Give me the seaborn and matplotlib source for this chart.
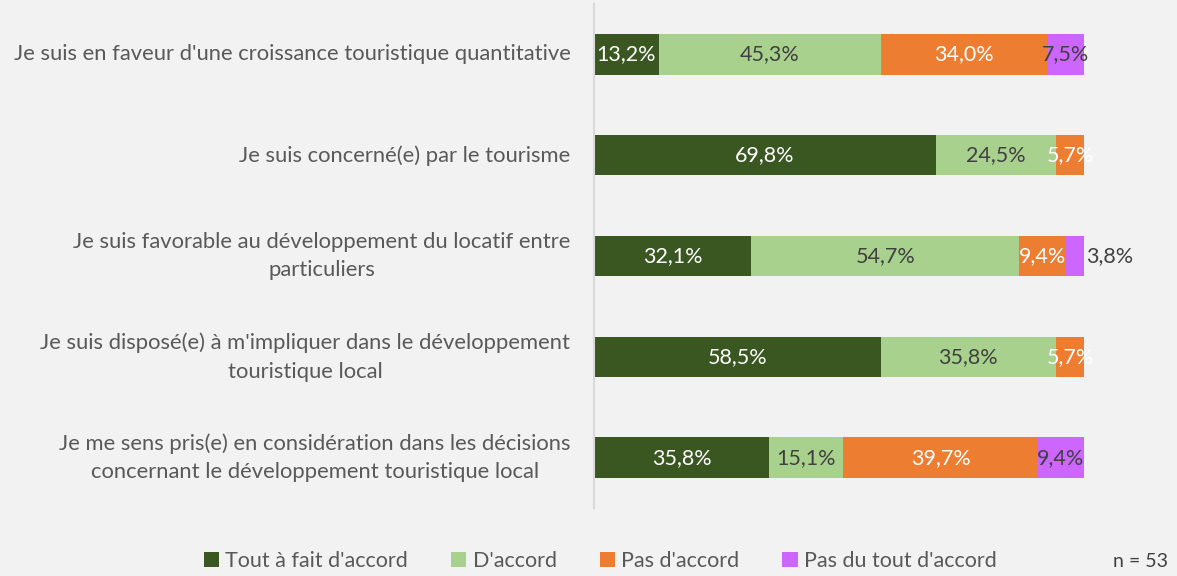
import matplotlib
matplotlib.use("Agg")
import matplotlib.pyplot as plt
from matplotlib.patches import Patch
import numpy as np
import pandas as pd
import seaborn as sns

statements = [
    "Je suis en faveur d'une croissance touristique quantitative",
    "Je suis concerné(e) par le tourisme",
    "Je suis favorable au développement du locatif entre\nparticuliers",
    "Je suis disposé(e) à m'impliquer dans le développement\ntouristique local",
    "Je me sens pris(e) en considération dans les décisions\nconcernant le développement touristique local",
]
levels = ["Tout à fait d'accord", "D'accord", "Pas d'accord", "Pas du tout d'accord"]
tout_a_fait = [13.2, 69.8, 32.1, 58.5, 35.8]
d_accord = [45.3, 24.5, 54.7, 35.8, 15.1]
pas_d_accord = [34.0, 5.7, 9.4, 5.7, 39.7]
pas_du_tout = [7.5, 0.0, 3.8, 0.0, 9.4]
sample_note = "n = 53"

colors = ["#3a5722", "#a9d18e", "#ed7d31", "#cc66ff"]
label_colors = ["white", "#404040", "white", "#404040"]
bg = "#f2f2f2"

sns.set_theme(style="white")
plt.rcParams["font.family"] = ["Lato", "DejaVu Sans"]

series = [tout_a_fait, d_accord, pas_d_accord, pas_du_tout]
vals = np.array(series)  # shape (levels, statements)
cum = np.cumsum(vals, axis=0)

fig = plt.figure(figsize=(11.77, 5.76), dpi=100, facecolor=bg)
ax = fig.add_axes([0.5047, 0.118, 0.4163, 0.875], facecolor=bg)

# Stacked bars: draw cumulative totals from the widest down
for i in range(len(levels) - 1, -1, -1):
    df = pd.DataFrame({"statement": statements, "value": cum[i]})
    sns.barplot(data=df, x="value", y="statement", orient="h", color=colors[i],
                saturation=1, width=0.4, ax=ax, linewidth=0)

for j in range(len(statements)):
    for i in range(len(levels)):
        v = vals[i, j]
        if v <= 0:
            continue
        txt = f"{v:.1f}%".replace(".", ",")
        start = cum[i, j] - v
        if v < 5:
            ax.text(cum[i, j] + 0.5, j, txt, ha="left", va="center",
                    color="#404040", fontsize=15.5)
        else:
            ax.text(start + v / 2, j, txt, ha="center", va="center",
                    color=label_colors[i], fontsize=15.5)

ax.set_xlim(0, 100)
ax.set_ylim(4.5, -0.5)
ax.set_xlabel("")
ax.set_ylabel("")
ax.set_xticks([])
for s in ["top", "right", "bottom"]:
    ax.spines[s].set_visible(False)
ax.spines["left"].set_color("#d9d9d9")
ax.spines["left"].set_linewidth(1.5)
ax.tick_params(axis="y", length=0, pad=17)
for lab in ax.get_yticklabels():
    lab.set_fontsize(15.85)
    lab.set_color("#595959")
    lab.set_multialignment("center")
    lab.set_linespacing(1.55)
    lab.set_verticalalignment("center")

handles = [Patch(facecolor=c, edgecolor="none") for c in colors]
fig.legend(handles, levels, loc="center", bbox_to_anchor=(0.51, 0.026), ncol=4,
           frameon=False, fontsize=15.5, handlelength=0.7, handleheight=0.7,
           handletextpad=0.3, columnspacing=2.0, labelcolor="#595959")
fig.text(0.992, 0.026, sample_note, ha="right", va="center", fontsize=14,
         color="#404040")

fig.savefig("out.png", dpi=100, facecolor=bg)
